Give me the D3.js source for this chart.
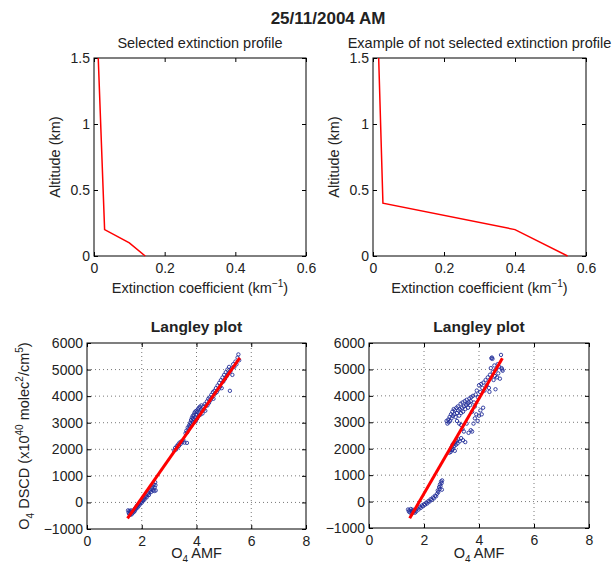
<!DOCTYPE html>
<html>
<head>
<meta charset="utf-8">
<script src="https://cdn.jsdelivr.net/npm/d3@7"></script>
<style>
body { margin: 0; background: #fff; }
svg { font-family: "Liberation Sans", Arial, sans-serif; }
</style>
</head>
<body>
<svg width="616" height="562"></svg>
<script>
// extinction profiles (altitude in km, extinction in km^-1)
let altSelected = [0, 0.1, 0.2, 1.5]
let extSelected = [0.145, 0.1, 0.03, 0.012]
let altRejected = [0, 0.2, 0.4, 1.5]
let extRejected = [0.548, 0.4, 0.028, 0.016]

let extTicks = [0, 0.2, 0.4, 0.6]
let altTicks = [0, 0.5, 1, 1.5]
let amfTicks = [0, 2, 4, 6, 8]
let dscdTicks = [-1000, 0, 1000, 2000, 3000, 4000, 5000, 6000]

// Langley plot points [O4 AMF, O4 DSCD]
let langleyLeft = [
  [1.50,-300],[1.52,-380],[1.54,-430],[1.55,-320],[1.57,-470],[1.58,-360],[1.60,-410],[1.61,-300],
  [1.63,-450],[1.64,-350],[1.66,-400],[1.68,-320],[1.70,-370],[1.72,-280],[1.74,-330],
  [1.76,-220],[1.78,-260],[1.80,-180],[1.82,-130],[1.84,-200],[1.86,-90],[1.88,-140],[1.90,-40],
  [1.93,-80],[1.95,0],[1.98,40],[2.00,-10],[2.03,90],[2.05,60],[2.08,150],[2.10,110],[2.13,200],
  [2.16,250],[2.18,190],[2.21,300],[2.24,350],[2.26,280],[2.29,420],[2.32,470],[2.34,390],
  [2.37,540],[2.40,600],[2.42,480],[2.44,680],[2.46,430],[2.47,560],[2.49,760],[2.50,650],[2.51,450],
  [3.18,1950],[3.22,2050],[3.25,1990],[3.28,2120],[3.30,2060],[3.33,2180],[3.36,2130],[3.38,2250],
  [3.42,2200],[3.45,2300],[3.48,2270],[3.52,2350],[3.56,2250],[3.65,2240],
  [3.60,2600],[3.63,2700],[3.66,2640],[3.68,2820],[3.71,2760],[3.73,2900],[3.75,2850],[3.77,3000],
  [3.79,2950],[3.80,3100],[3.82,2900],[3.83,3180],[3.85,3050],[3.86,3250],[3.88,3150],[3.89,3000],
  [3.90,3300],[3.92,3120],[3.93,3380],[3.95,3200],[3.96,3420],[3.97,3050],[3.99,3300],[4.00,3450],
  [4.02,3150],[4.03,3400],[4.05,3500],[4.07,3250],[4.08,3550],[4.10,3350],[4.12,3600],[4.14,3300],
  [4.16,3500],[4.18,3650],[4.20,3450],[4.22,3350],[4.24,3600],[4.27,3500],[4.30,3700],[4.32,3450],
  [4.35,3650],[4.38,3800],[4.40,3650],[4.43,3900],[4.46,3750],[4.48,3950],[4.51,3850],[4.54,4050],
  [4.57,3950],[4.60,4150],[4.62,3900],[4.65,4200],[4.68,4100],[4.71,4300],[4.74,4150],[4.77,4400],
  [4.80,4250],[4.83,4500],[4.86,4350],[4.89,4600],[4.92,4300],[4.95,4700],[4.98,4550],[5.01,4800],
  [5.04,4650],[5.07,4900],[5.10,4750],[5.13,5000],[5.16,4850],[5.19,5100],[5.22,4200],[5.24,4950],
  [5.28,5050],[5.31,4800],[5.34,5200],[5.38,5100],[5.42,5300],[5.46,5200],[5.50,5450],[5.53,5570],[5.56,5350]
]
let langleyRight = [
  [1.42,-300],[1.45,-380],[1.47,-330],[1.50,-420],[1.52,-280],[1.55,-360],[1.57,-440],[1.60,-310],
  [1.62,-390],[1.65,-350],[1.67,-420],[1.70,-300],[1.72,-370],
  [1.76,-250],[1.80,-300],[1.84,-200],[1.88,-240],[1.92,-150],[1.96,-180],[2.00,-100],[2.04,-120],
  [2.08,-40],[2.12,-70],[2.16,20],[2.20,0],[2.24,90],[2.28,60],[2.32,150],[2.36,120],[2.40,220],
  [2.44,200],[2.48,300],[2.50,420],[2.52,360],[2.55,550],[2.57,470],[2.58,650],[2.60,580],
  [2.62,760],[2.64,700],[2.66,800],[2.65,450],
  [2.92,1850],[2.95,1950],[2.97,1880],[3.00,2050],[3.02,1950],[3.04,2150],[3.06,2000],[3.08,2200],
  [3.10,2100],[3.13,2250],[3.16,2150],[3.19,2300],[3.22,2200],[3.25,2350],[3.30,2280],[3.35,2400],
  [3.42,2320],[3.50,2250],[3.12,1920],
  [2.82,3050],[2.85,2950],[2.88,3100],[2.90,3000],[2.93,3200],[2.95,3050],[2.98,3300],[3.00,3150],
  [3.03,3400],[3.05,3250],[3.08,3500],[3.10,3300],[3.12,3450],[3.15,3200],[3.18,3550],[3.20,3350],
  [3.23,3600],[3.25,3450],[3.28,3250],[3.30,3500],[3.33,3700],[3.35,3350],[3.38,3550],[3.40,3750],
  [3.42,3400],[3.45,3600],[3.48,3800],[3.50,3500],[3.53,3650],[3.55,3850],[3.58,3700],[3.60,3550],
  [3.63,3750],[3.65,3900],[3.68,3650],[3.70,3800],[3.35,2900],[3.40,2750],[3.45,2650],[3.55,2950],
  [3.62,2600],[3.70,2700],[3.75,2650],[3.80,2950],[3.85,3150],[3.90,3300],[3.95,3050],[4.00,3250],
  [4.05,3450],[4.10,3300],[4.15,3550],[3.20,3050],[3.28,2950],[3.75,3400],[3.85,3600],[3.72,3950],
  [3.78,4000],[3.82,3750],
  [3.88,4050],[3.92,4200],[3.96,3950],[4.00,4400],[4.04,4150],[4.08,4450],[4.12,4300],[4.16,4500],
  [4.20,4200],[4.24,4600],[4.28,4400],[4.32,4700],[4.36,4300],[4.38,4150],[4.40,4800],[4.43,5050],
  [4.45,5420],[4.47,5450],[4.49,5400],[4.50,4900],[4.53,4600],[4.56,5150],[4.58,4750],[4.60,4250],
  [4.62,5000],[4.65,4700],[4.68,5200],[4.70,4850],[4.73,5100],[4.76,4650],[4.80,5550],[4.82,5050],
  [4.84,5000],[4.86,4950]
]
// fitted lines (end points)
let fitLeft = [[1.48, -600], [5.58, 5440]]
let fitRight = [[1.48, -630], [4.85, 5420]]

let svg = d3.select("svg")
let tickColor = "#222"

function frame(x, y, xTicks, yTicks, grid) {
  let g = svg.append("g")
  let [x0, x1] = x.range()
  let [y0, y1] = y.range()

  if (grid) {
    g.selectAll(".gx")
      .data(xTicks.slice(1, -1))
      .join("line")
      .attr("x1", d => x(d)).attr("x2", d => x(d))
      .attr("y1", y0).attr("y2", y1)
      .style("stroke", "#555").style("stroke-width", 0.8).style("stroke-dasharray", "1,3")
    g.selectAll(".gy")
      .data(yTicks.slice(1, -1))
      .join("line")
      .attr("x1", x0).attr("x2", x1)
      .attr("y1", d => y(d)).attr("y2", d => y(d))
      .style("stroke", "#555").style("stroke-width", 0.8).style("stroke-dasharray", "1,3")
  }

  let fmt = d3.format("")
  let bottom = g.append("g").attr("transform", `translate(0,${y0})`)
    .call(d3.axisBottom(x).tickValues(xTicks).tickSizeInner(-4).tickSizeOuter(0).tickPadding(7).tickFormat(fmt))
  let left = g.append("g").attr("transform", `translate(${x0},0)`)
    .call(d3.axisLeft(y).tickValues(yTicks).tickSizeInner(-4).tickSizeOuter(0).tickPadding(4).tickFormat(fmt))
  let top = g.append("g").attr("transform", `translate(0,${y1})`)
    .call(d3.axisTop(x).tickValues(xTicks).tickSizeInner(-4).tickSizeOuter(0).tickFormat(""))
  let right = g.append("g").attr("transform", `translate(${x1},0)`)
    .call(d3.axisRight(y).tickValues(yTicks).tickSizeInner(-4).tickSizeOuter(0).tickFormat(""))

  ;[bottom, left, top, right].forEach(a => {
    a.select(".domain").remove()
    a.selectAll("line").style("stroke", "#000")
    a.selectAll("text").style("font-size", "14px").style("fill", tickColor)
      .style("font-family", "'Liberation Sans', Arial, sans-serif")
  })
  // y tick labels sit left of the axis, x labels below
  left.selectAll("text").attr("x", -4)

  g.append("rect")
    .attr("x", x0).attr("y", y1)
    .attr("width", x1 - x0).attr("height", y0 - y1)
    .style("fill", "none").style("stroke", "#000").style("stroke-width", 1)
  return g
}

function label(x, y, size, weight, text, rotate) {
  let t = svg.append("text")
    .attr("text-anchor", "middle")
    .style("font-size", size + "px")
    .style("font-weight", weight)
    .style("fill", tickColor)
  if (rotate) t.attr("transform", `translate(${x},${y}) rotate(-90)`)
  else t.attr("x", x).attr("y", y)
  if (typeof text === "string") t.text(text)
  else text.forEach(p => {
    t.append("tspan").attr("dy", p.dy || 0).style("font-size", p.size ? p.size + "px" : null).text(p.t)
  })
  return t
}

// ---- top panels: extinction profiles
function profile(left, right, ext, alt, title) {
  let x = d3.scaleLinear().domain([0, 0.6]).range([left, right])
  let y = d3.scaleLinear().domain([0, 1.5]).range([256, 58])
  frame(x, y, extTicks, altTicks, false)

  let line = d3.line().x(d => x(d[0])).y(d => y(d[1]))
  svg.append("path")
    .attr("d", line(d3.zip(ext, alt)))
    .style("fill", "none").style("stroke", "#ff0000").style("stroke-width", 1.5)

  let cx = (left + right) / 2
  label(cx, 48, 14.5, "normal", title)
  label(cx, 293, 14.5, "normal", [
    {t: "Extinction coefficient (km"},
    {t: "\u22121", dy: -6, size: 10},
    {t: ")", dy: 6}
  ])
  label(left - 34, 157, 14.5, "normal", "Altitude (km)", true)
}

profile(94, 306, extSelected, altSelected, "Selected extinction profile")
profile(373, 586, extRejected, altRejected, "Example of not selected extinction profile")

// ---- bottom panels: Langley plots
function langley(left, right, bottom, pts, fit) {
  let x = d3.scaleLinear().domain([0, 8]).range([left, right])
  let y = d3.scaleLinear().domain([-1000, 6000]).range([bottom, 343])
  frame(x, y, amfTicks, dscdTicks, true)

  svg.append("g")
    .selectAll("circle")
    .data(pts)
    .join("circle")
    .attr("cx", d => x(d[0]))
    .attr("cy", d => y(d[1]))
    .attr("r", 1.7)
    .style("fill", "none")
    .style("stroke", "#24309a")
    .style("stroke-width", 0.9)

  svg.append("line")
    .attr("x1", x(fit[0][0])).attr("y1", y(fit[0][1]))
    .attr("x2", x(fit[1][0])).attr("y2", y(fit[1][1]))
    .style("stroke", "#ff0000").style("stroke-width", 3)

  let cx = (left + right) / 2
  label(cx, 332, 15.5, "bold", "Langley plot")
  label(cx, 558, 14.5, "normal", [
    {t: "O"},
    {t: "4", dy: 5, size: 10},
    {t: " AMF", dy: -5}
  ])
}

langley(87, 306, 529, langleyLeft, fitLeft)
langley(369, 589, 528, langleyRight, fitRight)

label(29, 436, 14.5, "normal", [
  {t: "O"},
  {t: "4", dy: 5, size: 10},
  {t: " DSCD (x10", dy: -5},
  {t: "40", dy: -6, size: 10},
  {t: " molec", dy: 6},
  {t: "2", dy: -6, size: 10},
  {t: "/cm", dy: 6},
  {t: "5", dy: -6, size: 10},
  {t: ")", dy: 6}
], true)

// main title
label(328, 24, 17, "bold", "25/11/2004 AM")
</script>
</body>
</html>
